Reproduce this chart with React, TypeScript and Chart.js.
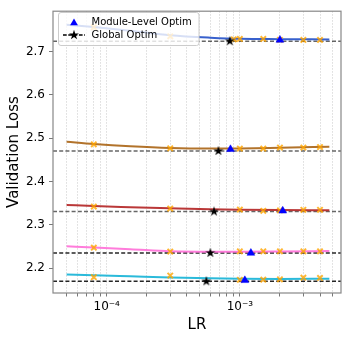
import React, { useEffect, useRef } from 'react';
import { Chart, registerables } from 'chart.js';
Chart.register(...registerables);

const FONT = 'DejaVu Sans';

// Fitted curves (sampled along LR)
const curveLr = [5e-5, 8e-5, 1.5e-4, 3e-4, 6e-4, 1e-3, 2e-3, 4.7e-3];
const curve1 = [2.762, 2.7563, 2.7478, 2.7376, 2.7319, 2.7292, 2.7285, 2.728];
const curve2 = [2.492, 2.4868, 2.4815, 2.4775, 2.4762, 2.4765, 2.4782, 2.4806];
const curve3 = [2.3462, 2.3435, 2.341, 2.3385, 2.3362, 2.335, 2.3342, 2.3339];
const curve4 = [2.2506, 2.2478, 2.244, 2.2392, 2.2382, 2.2383, 2.2389, 2.2399];
const curve5 = [2.1856, 2.184, 2.1815, 2.1787, 2.1768, 2.1758, 2.1755, 2.1761];

// LR sweep points (orange x markers)
const sweepLr1 = [8e-5, 3e-4, 9e-4, 1e-3, 1.5e-3, 2e-3, 3e-3, 4e-3];
const sweepLoss1 = [2.756, 2.735, 2.728, 2.729, 2.729, 2.727, 2.7267, 2.7267];
const sweepLr = [8e-5, 3e-4, 1e-3, 1.5e-3, 2e-3, 3e-3, 4e-3];
const sweepLoss2 = [2.4859, 2.4768, 2.4761, 2.4761, 2.4784, 2.4784, 2.4797];
const sweepLoss3 = [2.3424, 2.3378, 2.3355, 2.3326, 2.3335, 2.3349, 2.3349];
const sweepLoss4 = [2.2476, 2.2385, 2.2392, 2.2392, 2.2392, 2.2392, 2.2392];
const sweepLoss5 = [2.1794, 2.1833, 2.1735, 2.1738, 2.1745, 2.1784, 2.1777];

// Optima
const globalLr = [8.4e-4, 6.9e-4, 6.4e-4, 6.0e-4, 5.6e-4];
const globalLoss = [2.7239, 2.4706, 2.331, 2.2355, 2.1701];
const moduleLr = [2.0e-3, 8.5e-4, 2.1e-3, 1.21e-3, 1.09e-3];
const moduleLoss = [2.7265, 2.4745, 2.3326, 2.2352, 2.1722];

// Axes
const xMin = 3.95e-5;
const xMax = 5.75e-3;
const yMin = 2.143;
const yMax = 2.793;
const xTicks = [5e-5, 6e-5, 7e-5, 8e-5, 9e-5, 1e-4, 2e-4, 3e-4, 4e-4, 5e-4, 6e-4, 7e-4, 8e-4, 9e-4, 1e-3, 2e-3, 3e-3, 4e-3, 5e-3];
const xMajorValues = [1e-4, 1e-3];
const xMajorLabels = ['10⁻⁴', '10⁻³'];
const yTicks = [2.2, 2.3, 2.4, 2.5, 2.6, 2.7];
const legendLabels = ['Module-Level Optim', 'Global Optim'];

// Styles
const curveColors = ['rgba(34,80,200,0.9)', 'rgba(170,100,20,0.9)', 'rgba(178,34,34,0.9)', 'rgba(255,110,215,0.9)', 'rgba(20,178,214,0.9)'];
const refLineColors = ['rgba(0,0,0,0.6)', 'rgba(0,0,0,0.6)', 'rgba(0,0,0,0.6)', 'rgba(0,0,0,0.85)', 'rgba(0,0,0,0.85)'];

const zip = (xs: number[], ys: number[]) => xs.map((x, i) => ({ x, y: ys[i] }));

function makeStar(size: number, outer: number) {
  const c = document.createElement('canvas');
  c.width = size;
  c.height = size;
  const ctx = c.getContext('2d')!;
  const cx = size / 2, cy = size / 2;
  const inner = outer * 0.382;
  ctx.beginPath();
  for (let i = 0; i < 10; i++) {
    const r = i % 2 === 0 ? outer : inner;
    const a = -Math.PI / 2 + (i * Math.PI) / 5;
    const px = cx + r * Math.cos(a), py = cy + r * Math.sin(a);
    if (i === 0) ctx.moveTo(px, py); else ctx.lineTo(px, py);
  }
  ctx.closePath();
  ctx.fillStyle = '#000';
  ctx.fill();
  return c;
}

export default function App() {
  const ref = useRef<HTMLCanvasElement>(null);
  useEffect(() => {
    const star = makeStar(12, 5.2);
    const curves = [curve1, curve2, curve3, curve4, curve5];
    const sweeps = [zip(sweepLr1, sweepLoss1), zip(sweepLr, sweepLoss2), zip(sweepLr, sweepLoss3), zip(sweepLr, sweepLoss4), zip(sweepLr, sweepLoss5)];
    const datasets: any[] = [];
    datasets.push({
      data: zip(globalLr, globalLoss), showLine: false, order: 0,
      pointStyle: star, pointRadius: 5, borderWidth: 0,
    });
    datasets.push({
      data: zip(moduleLr, moduleLoss), showLine: false, order: 1,
      pointStyle: 'triangle', pointRadius: 4.5, pointBackgroundColor: '#0000ff', pointBorderColor: '#0000ff', pointBorderWidth: 0.5,
    });
    sweeps.forEach((s) => {
      datasets.push({
        data: s, showLine: false, order: 2,
        pointStyle: 'crossRot', pointRadius: 3.8, pointBorderColor: 'rgba(255,165,0,0.8)', pointBorderWidth: 2,
      });
    });
    curves.forEach((c, i) => {
      datasets.push({
        data: zip(curveLr, c), order: 3, borderColor: curveColors[i], borderWidth: 2,
        pointRadius: 0, cubicInterpolationMode: 'monotone', fill: false,
      });
    });

    const refLines = {
      id: 'refLines',
      beforeDatasetsDraw(chart: any) {
        const { ctx, chartArea } = chart;
        const ys = chart.scales.y;
        ctx.save();
        ctx.lineWidth = 1.5;
        ctx.setLineDash([4, 2.2]);
        globalLoss.forEach((v, i) => {
          const y = ys.getPixelForValue(v);
          ctx.strokeStyle = refLineColors[i];
          ctx.beginPath();
          ctx.moveTo(chartArea.left, y);
          ctx.lineTo(chartArea.right, y);
          ctx.stroke();
        });
        ctx.restore();
      },
    };

    const overlay = {
      id: 'overlay',
      afterDraw(chart: any) {
        const { ctx, chartArea } = chart;
        ctx.save();
        // frame
        ctx.strokeStyle = '#888';
        ctx.lineWidth = 1.2;
        ctx.strokeRect(chartArea.left, chartArea.top, chartArea.right - chartArea.left, chartArea.bottom - chartArea.top);
        // legend box
        const lx = 58.5, ly = 12.5, lw = 140.5, lh = 33, r = 2.5;
        ctx.beginPath();
        ctx.moveTo(lx + r, ly);
        ctx.lineTo(lx + lw - r, ly);
        ctx.arcTo(lx + lw, ly, lx + lw, ly + r, r);
        ctx.lineTo(lx + lw, ly + lh - r);
        ctx.arcTo(lx + lw, ly + lh, lx + lw - r, ly + lh, r);
        ctx.lineTo(lx + r, ly + lh);
        ctx.arcTo(lx, ly + lh, lx, ly + lh - r, r);
        ctx.lineTo(lx, ly + r);
        ctx.arcTo(lx, ly, lx + r, ly, r);
        ctx.closePath();
        ctx.fillStyle = 'rgba(255,255,255,0.8)';
        ctx.fill();
        ctx.strokeStyle = '#cccccc';
        ctx.lineWidth = 1;
        ctx.stroke();
        // row 1: triangle
        const hx = 74, y1 = 22, y2 = 35;
        const tr = 4.5;
        ctx.beginPath();
        for (let k = 0; k < 3; k++) {
          const a = (k * 2 * Math.PI) / 3;
          const px = hx + Math.sin(a) * tr, py = y1 - Math.cos(a) * tr + 1;
          if (k === 0) ctx.moveTo(px, py); else ctx.lineTo(px, py);
        }
        ctx.closePath();
        ctx.fillStyle = '#0000ff';
        ctx.fill();
        // row 2: dashed line + star
        ctx.strokeStyle = '#000';
        ctx.lineWidth = 1.5;
        ctx.setLineDash([3.7, 1.6]);
        ctx.beginPath();
        ctx.moveTo(63, y2);
        ctx.lineTo(85, y2);
        ctx.stroke();
        ctx.setLineDash([]);
        ctx.drawImage(star, hx - star.width / 2, y2 - star.height / 2);
        // texts
        ctx.fillStyle = '#000';
        ctx.font = `10px "${FONT}"`;
        ctx.textBaseline = 'middle';
        ctx.textAlign = 'left';
        ctx.fillText(legendLabels[0], 91.5, y1);
        ctx.fillText(legendLabels[1], 91.5, y2);
        ctx.restore();
      },
    };

    const chart = new Chart(ref.current!, {
      type: 'line',
      data: { datasets },
      options: {
        animation: false,
        responsive: false,
        events: [],
        layout: { padding: { left: 0, top: 7, right: 8, bottom: 0 } },
        plugins: { legend: { display: false }, tooltip: { enabled: false } },
        scales: {
          x: {
            type: 'logarithmic',
            min: xMin,
            max: xMax,
            afterBuildTicks: (s: any) => { s.ticks = xTicks.map((v) => ({ value: v })); },
            afterFit: (s: any) => { s.height = 47; },
            ticks: {
              autoSkip: false, maxRotation: 0, minRotation: 0, padding: 3.5, color: '#000',
              font: { family: FONT, size: 12 },
              callback: (v: any) => {
                const idx = xMajorValues.findIndex((m) => Math.abs(m - Number(v)) / m < 1e-6);
                return idx >= 0 ? xMajorLabels[idx] : '';
              },
            },
            grid: { color: '#d0d0d0', lineWidth: 0.8, tickLength: 3.5, tickColor: '#555', tickWidth: 0.8 },
            border: { display: false, dash: [1.5, 1.5] },
            title: { display: true, text: 'LR', color: '#000', font: { family: FONT, size: 15 }, padding: { top: 0, bottom: 6 } },
          },
          y: {
            type: 'linear',
            min: yMin,
            max: yMax,
            afterBuildTicks: (s: any) => { s.ticks = yTicks.map((v) => ({ value: v })); },
            afterFit: (s: any) => { s.width = 53; },
            ticks: {
              padding: 4, color: '#000', font: { family: FONT, size: 12 },
              callback: (v: any) => Number(v).toFixed(1),
            },
            grid: { drawOnChartArea: false, tickLength: 4, tickColor: '#555', tickWidth: 0.8 },
            border: { display: false },
            title: { display: true, text: 'Validation Loss', color: '#000', font: { family: FONT, size: 15 }, padding: { top: 5, bottom: 0 } },
          },
        },
      } as any,
      plugins: [refLines, overlay],
    });
    return () => chart.destroy();
  }, []);

  return (
    <div style={{ position: 'absolute', left: 0, top: 0, width: 349, height: 340, background: '#fff' }}>
      <canvas ref={ref} width={349} height={340} style={{ display: 'block' }} />
    </div>
  );
}
